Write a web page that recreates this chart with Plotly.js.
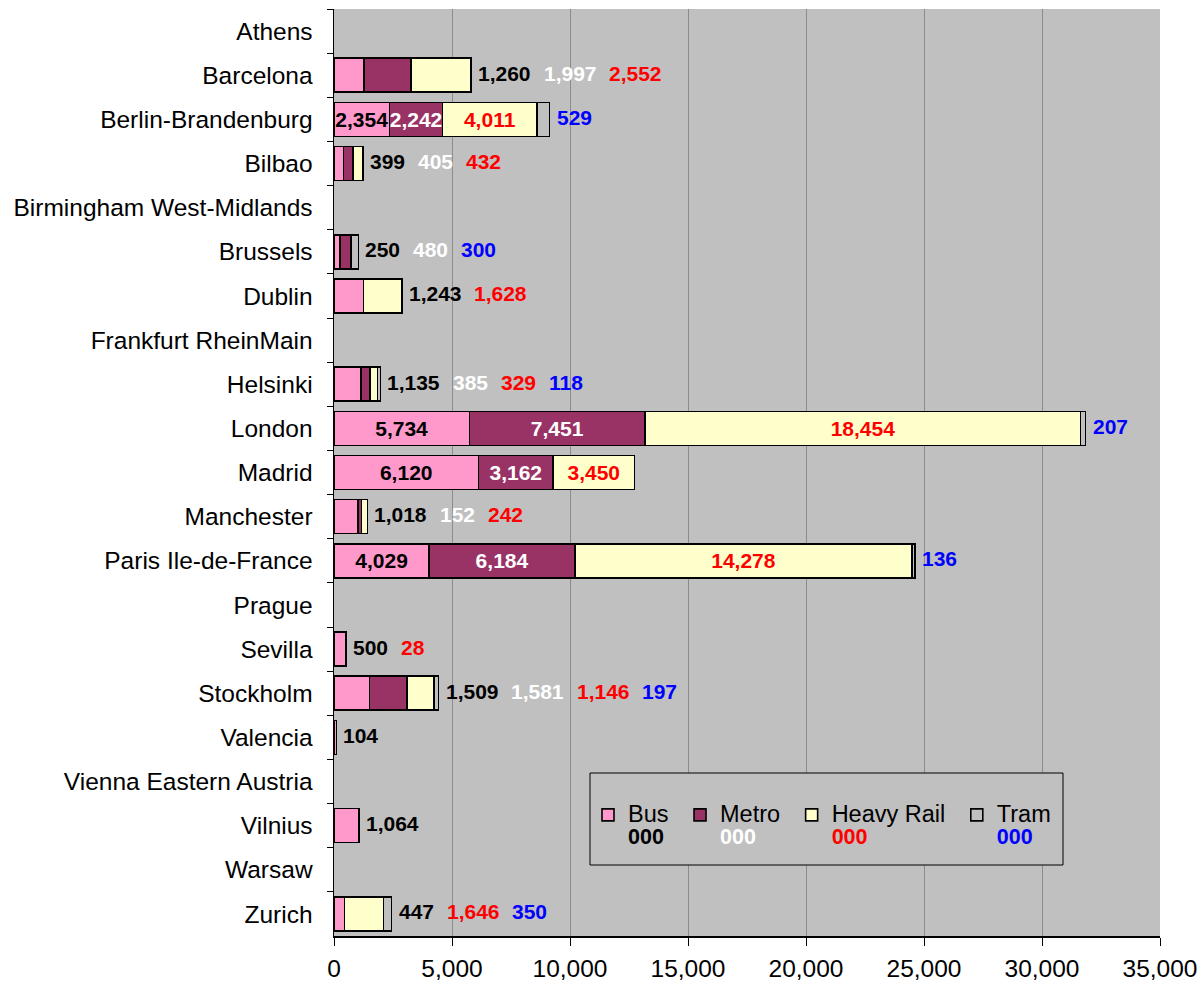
<!DOCTYPE html>
<html>
<head>
<meta charset="utf-8">
<script src="https://cdn.plot.ly/plotly-3.0.1.min.js"></script>
<style>html,body{margin:0;padding:0;background:#fff;}#chart{width:1203px;height:984px;}</style>
</head>
<body>
<div id="chart"></div>
<script>
// ---- data ----
const cities = ["Athens","Barcelona","Berlin-Brandenburg","Bilbao","Birmingham West-Midlands","Brussels","Dublin","Frankfurt RheinMain","Helsinki","London","Madrid","Manchester","Paris Ile-de-France","Prague","Sevilla","Stockholm","Valencia","Vienna Eastern Austria","Vilnius","Warsaw","Zurich"];
const bus       = [null,1260,2354,399,null,250,1243,null,1135,5734,6120,1018,4029,null,500,1509,104,null,1064,null,447];
const metro     = [null,1997,2242,405,null,480,null,null,385,7451,3162,152,6184,null,null,1581,null,null,null,null,null];
const heavyRail = [null,2552,4011,432,null,null,1628,null,329,18454,3450,242,14278,null,28,1146,null,null,null,null,1646];
const tram      = [null,null,529,null,null,300,null,null,118,207,null,null,136,null,null,197,null,null,null,null,350];
const seriesNames = ["Bus","Metro","Heavy Rail","Tram"];
const legendUnit = "000";
const xTicks = [0,5000,10000,15000,20000,25000,30000,35000];

// ---- styles ----
const FONT = "Liberation Sans, Arial, sans-serif";
const fills = ["#FF99CC","#993366","#FFFFCC","#C0C0C0"];
const labelColors = ["#000000","#FFFFFF","#FF0000","#0000FF"];
const series = [bus, metro, heavyRail, tram];
const fmt = v => v.toLocaleString("en-US");

const M = {l:334, r:43, t:9, b:48};
const plotW = 1203 - M.l - M.r;
const xMax = 35000;
const LABEL_SIZE = 21;
const AXIS_SIZE = 24.5;

// rows whose bus+metro+rail segments are long enough carry their labels inside
const inside = cities.map((c,i) => ((bus[i]||0)+(metro[i]||0)+(heavyRail[i]||0)) >= 8000);

const traces = series.map((arr, s) => ({
  type: "bar", orientation: "h",
  name: "<span style='font-size:23.5px'>" + seriesNames[s] + "\u00a0</span><br><b><span style='color:" + labelColors[s] + ";font-size:21.5px'>" + legendUnit + "</span></b>",
  y: cities, x: arr,
  marker: {color: fills[s], line: {color: "#000000", width: 1.6}},
  text: arr.map((v,i) => (v != null && inside[i] && s < 3) ? "<b>" + fmt(v) + "</b>" : ""),
  textposition: "inside", insidetextanchor: "middle", constraintext: "none",
  textfont: {family: FONT, size: LABEL_SIZE, color: labelColors[s]},
  hoverinfo: "x+y+name"
}));

// outside labels, laid out one after another to the right of each bar
function textWidth(str){
  let w = 0;
  for (const ch of str) w += (ch === "," ? 0.278 : 0.556) * LABEL_SIZE;
  return w;
}
const annotations = [];
cities.forEach((c,i) => {
  const total = series.reduce((a,arr) => a + (arr[i]||0), 0);
  let shift = 5;
  series.forEach((arr,s) => {
    const v = arr[i];
    if (v == null) return;
    if (inside[i] && s < 3) return;
    const t = fmt(v);
    annotations.push({
      x: total, y: c, xref: "x", yref: "y", xanchor: "left", yanchor: "middle",
      xshift: shift, yshift: 2, showarrow: false, text: "<b>" + t + "</b>",
      font: {family: FONT, size: LABEL_SIZE, color: labelColors[s]}
    });
    shift += textWidth(t) + 13;
  });
});

const plotH = 984 - M.t - M.b;
const toPX = px => (px - M.l) / plotW;
const toPY = py => (984 - M.b - py) / plotH;

const layout = {
  width: 1203, height: 984,
  margin: M,
  paper_bgcolor: "#FFFFFF", plot_bgcolor: "#C0C0C0",
  barmode: "stack", bargap: 0.23,
  font: {family: FONT, size: 23, color: "#000000"},
  showlegend: true,
  legend: {
    orientation: "h", traceorder: "normal",
    x: toPX(588), xanchor: "left", y: toPY(797), yanchor: "top",
    bgcolor: "rgba(0,0,0,0)", borderwidth: 0, valign: "top",
    font: {family: FONT, size: 17.5, color: "#000000"}
  },
  xaxis: {
    range: [0, xMax], tickvals: xTicks, ticktext: xTicks.map(fmt),
    ticks: "outside", ticklen: 8, tickwidth: 1, tickcolor: "#000000",
    showline: true, linecolor: "#000000", linewidth: 1.5,
    showgrid: true, gridcolor: "#8C8C8C", gridwidth: 1, zeroline: false,
    ticklabelstandoff: 2,
    tickfont: {family: FONT, size: AXIS_SIZE, color: "#000000"}, fixedrange: true
  },
  yaxis: {
    type: "category", autorange: "reversed",
    ticks: "outside", tickson: "boundaries", ticklen: 6, tickcolor: "#000000", tickwidth: 1,
    showline: true, linecolor: "#000000", linewidth: 1.5, showgrid: false, zeroline: false,
    ticklabelstandoff: 15,
    tickfont: {family: FONT, size: AXIS_SIZE, color: "#000000"}, fixedrange: true
  },
  shapes: [{
    type: "rect", xref: "paper", yref: "paper", layer: "above",
    x0: toPX(590), x1: toPX(1063), y0: toPY(865), y1: toPY(773),
    fillcolor: "#C0C0C0", line: {color: "#000000", width: 1}
  }],
  annotations: annotations
};

Plotly.newPlot("chart", traces, layout, {displayModeBar: false, staticPlot: true});
</script>
</body>
</html>
